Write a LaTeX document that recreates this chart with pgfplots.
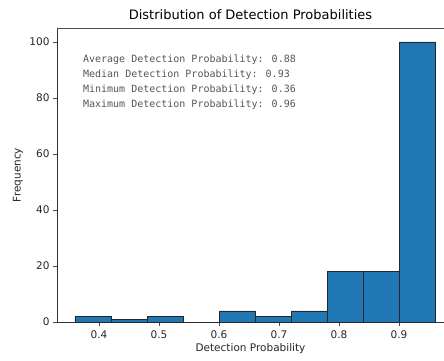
\documentclass[border=0pt]{standalone}
\usepackage{pgfplots}
\pgfplotsset{compat=1.18}
\usepackage{fontspec}
\setmainfont{DejaVu Sans}
\newfontfamily\monofont{DejaVu Sans Mono}
\definecolor{c0}{HTML}{1F77B4}
\definecolor{txtgray}{RGB}{85,85,85}
\begin{document}
\begin{tikzpicture}
\useasboundingbox (-57bp,-39bp) rectangle (387bp,322bp);
\begin{axis}[
  at={(0,0)}, anchor=south west,
  scale only axis,
  width=387bp, height=294bp,
  xmin=0.33, xmax=0.975,
  ymin=0, ymax=105,
  axis y line*=left,
  axis x line*=bottom,
  axis line style={black!80, line width=0.7pt},
  xtick={0.4,0.5,0.6,0.7,0.8,0.9},
  xticklabels={0.4,0.5,0.6,0.7,0.8,0.9},
  ytick={0,20,40,60,80,100},
  tick style={black!70, line width=0.6pt},
  tick align=outside,
  major tick length=3.5bp,
  /pgf/number format/assume math mode=true,
  tick label style={font=\fontsize{10.5bp}{12bp}\selectfont, text=black!85},
  yticklabel style={xshift=-0.5bp},
  xticklabel style={yshift=-2bp},
  xlabel={Detection Probability},
  ylabel={Frequency},
  label style={font=\fontsize{10.5bp}{12bp}\selectfont, text=black!85},
  xlabel style={at={(axis description cs:0.5,-0.0918)}, anchor=center},
  ylabel style={at={(axis description cs:-0.1008,0.5)}, anchor=center},
  title={Distribution of Detection Probabilities},
  title style={font=\fontsize{13bp}{15bp}\selectfont, at={(axis description cs:0.5,1.024)}, anchor=center},
  clip=false,
]
\addplot[ybar interval, fill=c0, draw=black!85, line width=0.6pt]
  coordinates {(0.36,2)(0.42,1)(0.48,2)(0.54,0)(0.60,4)(0.66,2)(0.72,4)(0.78,18)(0.84,18)(0.90,100)(0.96,100)};
\draw[black!70, line width=0.7pt] (rel axis cs:0,1) -- (rel axis cs:1,1);
\node[anchor=north west, inner sep=0pt, align=left, text=txtgray,
      font=\monofont\fontsize{10bp}{15bp}\selectfont]
  at (rel axis cs:0.067,0.911)
  {Average Detection Probability: 0.88\\
   Median Detection Probability: 0.93\\
   Minimum Detection Probability: 0.36\\
   Maximum Detection Probability: 0.96};
\end{axis}
\end{tikzpicture}
\end{document}
